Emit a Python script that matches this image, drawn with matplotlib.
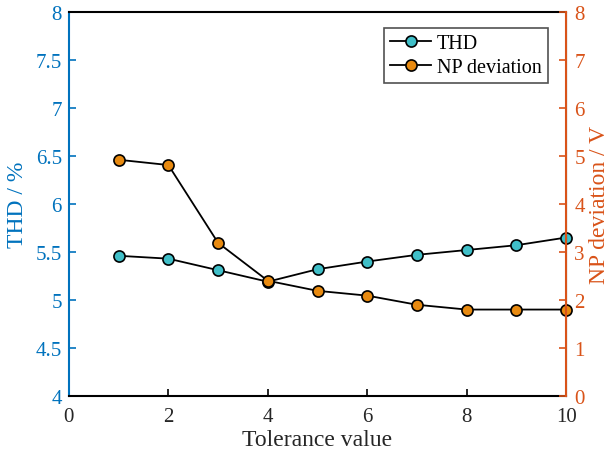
import matplotlib.pyplot as plt

tolerance = [1, 2, 3, 4, 5, 6, 7, 8, 9, 10]
thd = [5.46, 5.43, 5.31, 5.19, 5.32, 5.40, 5.47, 5.52, 5.57, 5.65]
np_dev = [4.92, 4.81, 3.19, 2.40, 2.19, 2.09, 1.90, 1.80, 1.80, 1.80]

blue = '#0072BD'
orange = '#D95319'

plt.rcParams['font.family'] = ['Liberation Serif', 'DejaVu Serif']

fig = plt.figure(figsize=(6.1, 4.6), dpi=100)
ax = fig.add_axes([0.113, 0.137, 0.815, 0.835])
ax2 = ax.twinx()

l1, = ax.plot(tolerance, thd, '-o', color='black', lw=1.3,
              markerfacecolor='#40BFC8', markeredgecolor='black',
              markersize=8, markeredgewidth=1.2, label='THD')
l2, = ax2.plot(tolerance, np_dev, '-o', color='black', lw=1.3,
               markerfacecolor='#E88A10', markeredgecolor='black',
               markersize=8, markeredgewidth=1.2, label='NP deviation')
for ln in (l1, l2):
    ln.set_clip_on(False)

ax.set_xlim(0, 10)
ax.set_ylim(4, 8)
ax2.set_ylim(0, 8)
ax.set_xticks(range(0, 11, 2))
ax.set_yticks([4, 4.5, 5, 5.5, 6, 6.5, 7, 7.5, 8])
ax.set_yticklabels(['4', '4.5', '5', '5.5', '6', '6.5', '7', '7.5', '8'])
ax2.set_yticks(range(0, 9))

for a in (ax, ax2):
    a.tick_params(direction='in', length=5, width=1.2, labelsize=15)
ax.spines['top'].set_linewidth(1.5)
ax2.spines['top'].set_visible(False)
ax.spines['left'].set_color(blue)
ax.spines['left'].set_linewidth(1.5)
ax.spines['bottom'].set_linewidth(1.5)
ax2.spines['right'].set_color(orange)
ax2.spines['right'].set_linewidth(1.5)
ax2.spines['left'].set_visible(False)
ax2.spines['bottom'].set_visible(False)
ax.tick_params(axis='y', colors=blue, pad=5)
ax.tick_params(axis='x', colors='black', labelcolor='#262626', pad=8)
ax2.tick_params(axis='y', colors=orange, pad=6)

ax.set_xlabel('Tolerance value', fontsize=17, color='#262626', labelpad=2)
ax.set_ylabel('THD / %', fontsize=17, color=blue)
ax2.set_ylabel('NP deviation / V', fontsize=17, color=orange)
ax.yaxis.set_label_coords(-0.082, 0.5)
ax2.yaxis.set_label_coords(1.046, 0.5)

leg = ax2.legend(handles=[l1, l2], loc='upper right', bbox_to_anchor=(0.975, 0.975),
                 fontsize=14.5, frameon=True, fancybox=False, edgecolor='#262626',
                 handlelength=2.0, handletextpad=0.3, borderpad=0.3, labelspacing=0.25,
                 borderaxespad=0.3)
leg.get_frame().set_linewidth(1.2)

fig.savefig('out.png', dpi=100)
